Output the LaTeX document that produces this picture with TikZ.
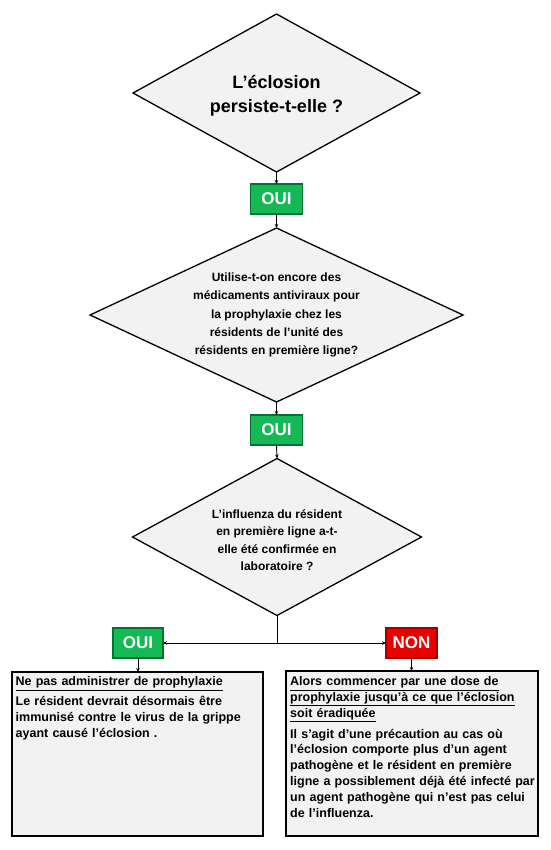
\documentclass[tikz,border=0pt]{standalone}
\usepackage{fontspec}
\setmainfont{Liberation Sans}
\usetikzlibrary{shapes.geometric,arrows.meta}
\definecolor{dfill}{HTML}{F2F2F2}
\definecolor{ouifill}{RGB}{20,185,85}
\definecolor{ouiline}{RGB}{0,115,50}
\definecolor{nonfill}{RGB}{235,0,0}
\definecolor{nonline}{RGB}{160,0,0}
\tikzset{
  decision/.style={diamond, draw=black, line width=1.3pt, fill=dfill, inner sep=0pt, outer sep=0pt},
  answer/.style={rectangle, draw=#1line, line width=1.2pt, fill=#1fill, text=white, inner sep=0pt, outer sep=0pt, font=\bfseries\fontsize{17}{20}\selectfont},
  infobox/.style={rectangle, draw=black, line width=1.4pt, fill=dfill, inner sep=0pt, outer sep=0pt},
  infotext/.style={anchor=north west, inner sep=0pt, text width=246pt, align=left, font=\bfseries\fontsize{12.5}{15.8}\selectfont},
  conn/.style={line width=0.9pt, -{Stealth[length=4pt,width=3.5pt]}},
  plain/.style={line width=0.9pt}
}
\begin{document}
\begin{tikzpicture}[x=1pt,y=1pt]
\useasboundingbox (0,0) rectangle (550,-850);
\fill[white] (0,0) rectangle (550,-850);

\node[decision, minimum width=287pt, minimum height=158pt] (d1) at (276.5,-93) {};
\node[align=center, font=\bfseries\fontsize{18}{24}\selectfont] (t1) at ([yshift=-3pt]d1.center) {L’éclosion\\persiste-t-elle ?};

\node[answer=oui, minimum width=52pt, minimum height=30pt] (oui1) at (276.5,-199) {OUI};

\node[decision, minimum width=373pt, minimum height=174pt] (d2) at (276.5,-315) {};
\node[align=center, font=\bfseries\fontsize{12}{18.3}\selectfont] (t2) at (d2.center) {Utilise-t-on encore des\\médicaments antiviraux pour\\la prophylaxie chez les\\résidents de l’unité des\\résidents en première ligne?};

\node[answer=oui, minimum width=52pt, minimum height=30pt] (oui2) at (276.5,-430) {OUI};

\node[decision, minimum width=289pt, minimum height=157pt] (d3) at (277,-537) {};
\node[align=center, font=\bfseries\fontsize{12}{17.5}\selectfont] (t3) at ([yshift=-3pt]d3.center) {L’influenza du résident\\en première ligne a-t-\\elle été confirmée en\\laboratoire ?};

\coordinate (j) at (277,-643);
\node[answer=oui, minimum width=50pt, minimum height=30pt] (oui3) at (138,-643) {OUI};
\node[answer=non, minimum width=51pt, minimum height=30pt] (non) at (411.5,-643) {NON};

\node[infobox, minimum width=251pt, minimum height=164pt] (lb) at (137.5,-754) {};
\node[infobox, minimum width=252pt, minimum height=165pt] (rb) at (412,-753.5) {};

\node[infotext] (lt) at (15.5,-676.5) {\underline{Ne pas administrer de prophylaxie}\\[4pt]
Le résident devrait désormais être\\immunisé contre le virus de la grippe\\ayant causé l’éclosion .};
\node[infotext] (rt) at (290,-676.5) {\underline{Alors commencer par une dose de}\\\underline{prophylaxie jusqu’à ce que l’éclosion}\\\underline{soit éradiquée}\\[5pt]
Il s’agit d’une précaution au cas où\\l’éclosion comporte plus d’un agent\\pathogène et le résident en première\\ligne a possiblement déjà été infecté par\\un agent pathogène qui n’est pas celui\\de l’influenza.};

\draw[conn] (d1.south) -- (oui1.north);
\draw[conn] (oui1.south) -- (d2.north);
\draw[conn] (d2.south) -- (oui2.north);
\draw[conn] (oui2.south) -- (d3.north);
\draw[plain] (d3.south) -- (j);
\draw[conn] (j) -- (oui3.east);
\draw[conn] (j) -- (non.west);
\draw[conn] (oui3.south) -- (oui3.south |- lb.north);
\draw[conn] (non.south) -- (non.south |- rb.north);
\end{tikzpicture}
\end{document}
